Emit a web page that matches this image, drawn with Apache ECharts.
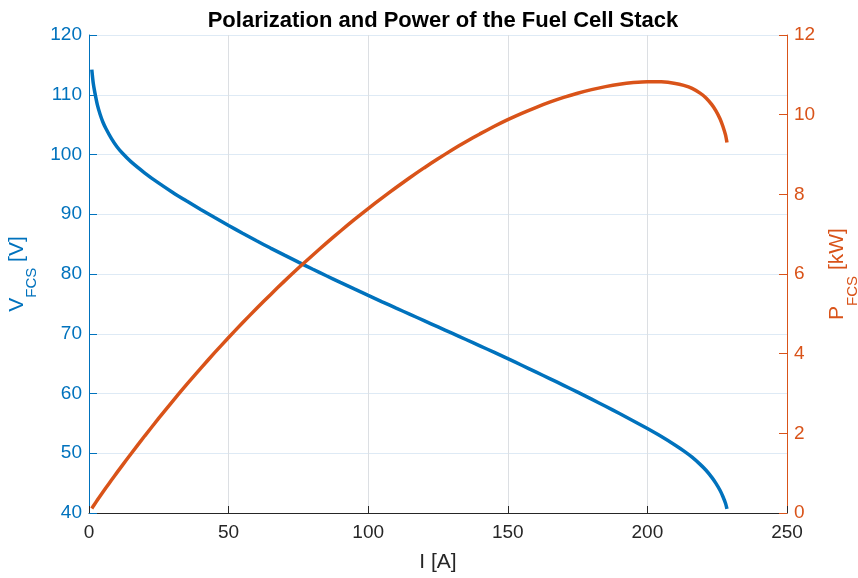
<!DOCTYPE html>
<html>
<head>
<meta charset="utf-8">
<script src="https://cdn.jsdelivr.net/npm/echarts@6/dist/echarts.min.js"></script>
<style>
  html, body { margin: 0; padding: 0; background: #fff; }
  #chart { width: 858px; height: 578px; }
</style>
</head>
<body>
<div id="chart"></div>
<script>
// Stack current [A]
const current = [1, 1.5, 2, 3, 4, 5, 6, 8, 10, 12, 15, 20, 25, 30, 35, 40, 45, 50, 55, 60, 65, 70, 75, 80, 85, 90, 95,
  100, 105, 110, 115, 120, 125, 130, 135, 140, 145, 150, 155, 160, 165, 170, 175, 180, 185, 190, 195,
  200, 205, 210, 213, 216, 219, 221, 223, 224.5, 226, 227, 228, 228.5];
// Stack voltage [V]
const voltage = [114.2, 112.0, 110.6, 108.3, 106.7, 105.4, 104.4, 102.7, 101.3, 100.2, 98.8, 96.9, 95.2, 93.65, 92.2, 90.8, 89.45, 88.12, 86.82, 85.56, 84.34, 83.15, 81.98, 80.83, 79.7, 78.59, 77.5,
  76.42, 75.35, 74.29, 73.24, 72.19, 71.14, 70.09, 69.04, 67.98, 66.91, 65.83, 64.73, 63.62, 62.5, 61.37, 60.22, 59.05, 57.86, 56.65, 55.41,
  54.14, 52.8, 51.35, 50.4, 49.35, 48.1, 47.15, 46.0, 45.0, 43.8, 42.8, 41.6, 40.7];
// Stack power [kW]
const power = [0.114, 0.168, 0.221, 0.325, 0.427, 0.527, 0.626, 0.822, 1.013, 1.202, 1.482, 1.938, 2.380, 2.810, 3.227, 3.632, 4.025, 4.406, 4.775, 5.134, 5.482, 5.821, 6.149, 6.466, 6.775, 7.073, 7.363,
  7.642, 7.912, 8.172, 8.423, 8.663, 8.893, 9.112, 9.320, 9.517, 9.702, 9.875, 10.033, 10.179, 10.313, 10.433, 10.539, 10.629, 10.704, 10.764, 10.805,
  10.828, 10.824, 10.784, 10.735, 10.660, 10.534, 10.420, 10.258, 10.103, 9.899, 9.716, 9.485, 9.300];

const xTicks = { min: 0, max: 250, step: 50 };
const vTicks = { min: 40, max: 120, step: 10 };
const pTicks = { min: 0, max: 12, step: 2 };

const BLUE = '#0072BD';
const ORANGE = '#D95319';
const DARK = '#262626';
const FONT = '"Liberation Sans", Arial, Helvetica, sans-serif';

const chart = echarts.init(document.getElementById('chart'), null, { renderer: 'canvas' });

function axisName(color) {
  return {
    color: color,
    rich: {
      m: { fontFamily: FONT, fontSize: 21, color: color, verticalAlign: 'top', lineHeight: 33 },
      s: { fontFamily: FONT, fontSize: 15, color: color, verticalAlign: 'bottom', lineHeight: 33 }
    }
  };
}

chart.setOption({
  animation: false,
  backgroundColor: '#ffffff',
  textStyle: { fontFamily: FONT },
  title: {
    text: 'Polarization and Power of the Fuel Cell Stack',
    left: 438,
    textAlign: 'center',
    top: 5,
    textStyle: { fontFamily: FONT, fontSize: 22, fontWeight: 'bold', color: '#000' }
  },
  grid: { left: 89, right: 71, top: 35, bottom: 65, containLabel: false, outerBoundsMode: 'none' },
  xAxis: {
    type: 'value',
    min: xTicks.min, max: xTicks.max, interval: xTicks.step,
    name: 'I [A]',
    nameLocation: 'middle',
    nameGap: 39,
    nameTextStyle: { fontFamily: FONT, fontSize: 21, color: DARK },
    axisLine: { show: true, onZero: false, lineStyle: { color: DARK, width: 1 } },
    axisTick: { show: true, inside: true, length: 7, lineStyle: { color: DARK } },
    axisLabel: { fontFamily: FONT, fontSize: 19, color: DARK, margin: 10 },
    splitLine: { show: true, lineStyle: { color: '#dcdfe3', width: 1 } }
  },
  yAxis: [
    {
      type: 'value',
      position: 'left',
      min: vTicks.min, max: vTicks.max, interval: vTicks.step,
      name: '{m|V}{s|FCS}{m| [V]}',
      nameLocation: 'middle',
      nameRotate: 90,
      nameGap: 48,
      nameTextStyle: axisName(BLUE),
      axisLine: { show: true, onZero: false, lineStyle: { color: BLUE, width: 1 } },
      axisTick: { show: true, inside: true, length: 8, lineStyle: { color: BLUE } },
      axisLabel: { fontFamily: FONT, fontSize: 19, color: BLUE, margin: 7 },
      splitLine: { show: true, lineStyle: { color: '#deeaf5', width: 1 } }
    },
    {
      type: 'value',
      position: 'right',
      min: pTicks.min, max: pTicks.max, interval: pTicks.step,
      name: '{m|P}{s|FCS}{m| [kW]}',
      nameLocation: 'middle',
      nameRotate: 90,
      nameGap: 40,
      nameTextStyle: axisName(ORANGE),
      axisLine: { show: true, onZero: false, lineStyle: { color: ORANGE, width: 1 } },
      axisTick: { show: true, inside: true, length: 8, lineStyle: { color: ORANGE } },
      axisLabel: { fontFamily: FONT, fontSize: 19, color: ORANGE, margin: 7 },
      splitLine: { show: false }
    }
  ],
  series: [
    {
      name: 'Voltage',
      type: 'line',
      yAxisIndex: 0,
      data: current.map((c, i) => [c, voltage[i]]),
      showSymbol: false,
      smooth: 0.2,
      lineStyle: { color: BLUE, width: 3.5, cap: 'butt' },
      z: 3
    },
    {
      name: 'Power',
      type: 'line',
      yAxisIndex: 1,
      data: current.map((c, i) => [c, power[i]]),
      showSymbol: false,
      smooth: 0.2,
      lineStyle: { color: ORANGE, width: 3.5, cap: 'butt' },
      z: 4
    }
  ]
});
</script>
</body>
</html>
